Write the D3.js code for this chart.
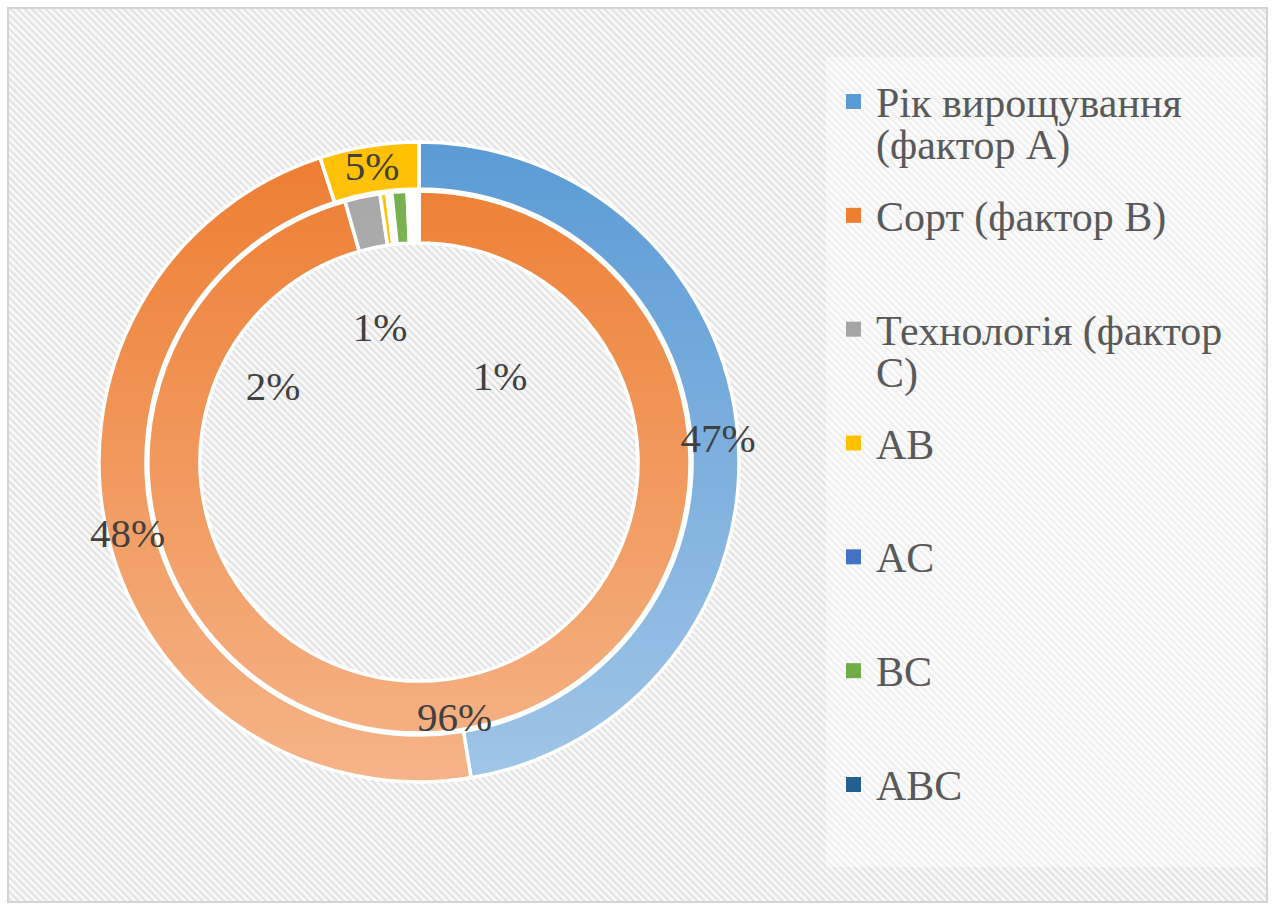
<!DOCTYPE html>
<html>
<head>
<meta charset="utf-8">
<script src="https://cdn.jsdelivr.net/npm/d3@7"></script>
<style>
  html, body { margin: 0; padding: 0; background: #fff; }
</style>
</head>
<body>
<svg id="chart" width="1274" height="912"></svg>
<script>
// categories and legend text
var keys = ['A', 'B', 'C', 'AB', 'AC', 'BC', 'ABC'];
var legendLines = [
  ['Рік вирощування', '(фактор A)'],
  ['Сорт (фактор B)'],
  ['Технологія (фактор', 'C)'],
  ['AB'], ['AC'], ['BC'], ['ABC']
];
var colors = ['#5B9BD5', '#ED7D31', '#A5A5A5', '#FFC000', '#4472C4', '#70AD47', '#255E91'];

// outer ring and inner ring shares, %
var outerValues = [47.4, 47.6, 0, 5.0, 0, 0, 0];
var innerValues = [0, 95.6, 2.1, 0.4, 0.3, 0.9, 0.7];
// inner slices that show no fill in the picture
var innerVisible = [true, true, true, true, false, true, false];

// labels: shown text per slice ('' = none)
var outerLabels = ['47%', '48%', '', '5%', '', '', ''];
var innerLabels = ['', '96%', '2%', '', '', '1%', '1%'];
// inner small labels were dragged into the hole: offsets from centre
var holeOffsets = {C: [-146, -76], BC: [-39, -135], ABC: [81, -86]};

var FONT = "'Liberation Serif', 'DejaVu Serif', serif";

var svg = d3.select('#chart');
var cx = 419, cy = 462;
var rOuter = 320, rMid = 272, rInner = 219;

var defs = svg.append('defs');

// diagonal stripe background
var pat = defs.append('pattern')
  .attr('id', 'stripes')
  .attr('patternUnits', 'userSpaceOnUse')
  .attr('width', 5).attr('height', 10)
  .attr('patternTransform', 'rotate(-45)');
pat.append('rect').attr('width', 5).attr('height', 10).attr('fill', '#f9f9f9');
pat.append('rect').attr('width', 2.2).attr('height', 10).attr('fill', '#e2e2e2');

// vertical gradients for each category (in pie group coordinates)
keys.forEach(function(k, i) {
  var g = defs.append('linearGradient')
    .attr('id', 'grad-' + k)
    .attr('gradientUnits', 'userSpaceOnUse')
    .attr('x1', 0).attr('x2', 0)
    .attr('y1', -rOuter).attr('y2', rOuter);
  g.append('stop').attr('offset', '0%').attr('stop-color', colors[i]);
  g.append('stop').attr('offset', '100%').attr('stop-color', d3.interpolateRgb(colors[i], '#fff')(0.42));
});

// background + border
svg.append('rect')
  .attr('x', 8).attr('y', 8).attr('width', 1259).attr('height', 894)
  .attr('fill', 'url(#stripes)')
  .attr('stroke', '#d4d4d4').attr('stroke-width', 2);

// legend box
svg.append('rect')
  .attr('x', 826).attr('y', 57).attr('width', 436).attr('height', 810)
  .attr('fill', '#fff').attr('opacity', 0.45);

var pie = d3.pie().sort(null).value(function(d) { return d.value; });

function ringData(values) {
  return keys.map(function(k, i) { return {key: k, i: i, value: values[i]}; });
}

var outerArc = d3.arc().innerRadius(rMid + 1).outerRadius(rOuter);
var innerArc = d3.arc().innerRadius(rInner).outerRadius(rMid - 1);

var gPie = svg.append('g').attr('transform', 'translate(' + cx + ',' + cy + ')');

var outerArcs = pie(ringData(outerValues)).filter(function(d) { return d.data.value > 0; });
var innerArcs = pie(ringData(innerValues)).filter(function(d) { return d.data.value > 0; });

gPie.selectAll('path.outer')
  .data(outerArcs)
  .enter().append('path')
    .attr('class', 'outer')
    .attr('d', outerArc)
    .attr('fill', function(d) { return 'url(#grad-' + d.data.key + ')'; })
    .attr('stroke', '#fff')
    .attr('stroke-width', 3.5)
    .attr('stroke-linejoin', 'round');

gPie.selectAll('path.inner')
  .data(innerArcs)
  .enter().append('path')
    .attr('class', 'inner')
    .attr('d', innerArc)
    .attr('fill', function(d) { return innerVisible[d.data.i] ? 'url(#grad-' + d.data.key + ')' : '#fff'; })
    .attr('stroke', '#fff')
    .attr('stroke-width', 3.5)
    .attr('stroke-linejoin', 'round');

// data labels
var labelFont = 41;
var outerLabelArc = d3.arc().innerRadius(rMid + 22).outerRadius(rOuter - 14);
var innerLabelArc = d3.arc().innerRadius(rInner + 12).outerRadius(rMid + 12);

gPie.selectAll('text.outer-label')
  .data(outerArcs.filter(function(d) { return outerLabels[d.data.i]; }))
  .enter().append('text')
    .attr('class', 'outer-label')
    .attr('transform', function(d) { return 'translate(' + outerLabelArc.centroid(d) + ')'; })
    .attr('text-anchor', 'middle')
    .attr('dy', '0.35em')
    .style('font-family', FONT)
    .attr('font-size', labelFont)
    .attr('fill', '#404040')
    .text(function(d) { return outerLabels[d.data.i]; });

gPie.selectAll('text.inner-label')
  .data(innerArcs.filter(function(d) { return innerLabels[d.data.i]; }))
  .enter().append('text')
    .attr('class', 'inner-label')
    .attr('transform', function(d) {
      var p = holeOffsets[d.data.key] || innerLabelArc.centroid(d);
      return 'translate(' + p + ')';
    })
    .attr('text-anchor', 'middle')
    .attr('dy', '0.35em')
    .style('font-family', FONT)
    .attr('font-size', labelFont)
    .attr('fill', '#404040')
    .text(function(d) { return innerLabels[d.data.i]; });

// legend
var legendY = d3.scalePoint().domain(keys).range([117, 800]);
var item = svg.append('g').selectAll('g')
  .data(keys)
  .enter().append('g')
    .attr('transform', function(d) { return 'translate(0,' + legendY(d) + ')'; });

item.append('rect')
  .attr('x', 846).attr('y', -23)
  .attr('width', 15).attr('height', 15)
  .attr('fill', function(d, i) { return colors[i]; });

item.append('text')
  .attr('x', 876)
  .style('font-family', FONT)
  .attr('font-size', 42)
  .attr('fill', '#595959')
  .selectAll('tspan')
  .data(function(d, i) { return legendLines[i]; })
  .enter().append('tspan')
    .attr('x', 876)
    .attr('dy', function(d, j) { return j === 0 ? 0 : 42; })
    .text(function(d) { return d; });
</script>
</body>
</html>
